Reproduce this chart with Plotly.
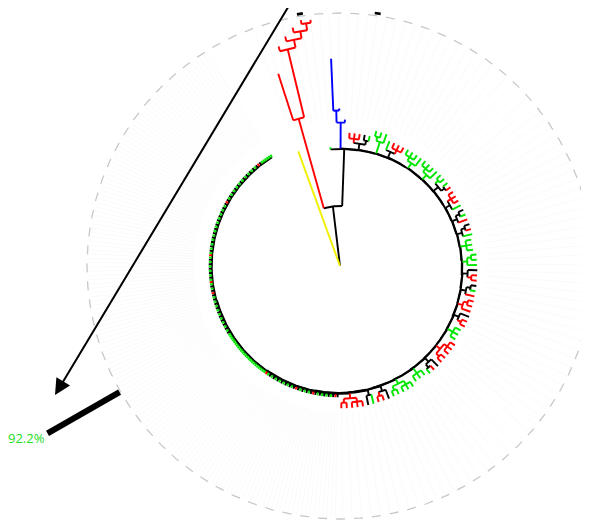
import math
import plotly.graph_objects as go

# ---------------- colours ----------------
TIP_COLOURS = {"R": "#ff0000", "G": "#00e600", "K": "#000000", "B": "#0000ff", "Y": "#f0f000"}

# ---------------- data (branch lengths are in tree units) ----------------
root_to_a = 60            # root -> node A
yellow_leaf = 122         # root -> yellow leaf
a_to_red = 93             # A -> red clade node
red_first_leaf = 49
red_ladder = [70, 8, 7, 7]
red_ladder_tips = [5, 5, 5, 4, 3]
a_to_b = 57               # A -> big clade B
b_first_leaf = 2
blue_stem = 26
blue_inner = 12
blue_tips = [52, 2, 3]
backbone_step = 0.45

small_clades = ["RRR|KG", "GG|G", "G|RRR", "GGG|G", "GGG|G", "GG|GR", "RRR|G",
                "KG|R", "KR|G", "GGG", "GG|G", "K|RR", "KG|R", "RR|R", "K|RR",
                "GGG", "RRR|RR", "K|RG", "GGG", "GGG|GG", "K|RR", "G|K", "RRR|RR"]
small_clade_stems = [6, 12, 6, 6, 6, 6, 5, 5, 5, 6, 5, 5, 5, 5, 5, 6, 5, 5, 6, 5, 5, 5, 5]

dense_segments = ["KRKGKGKGKG", "KRKGKGKGKR", "KGKGKGKGKG", "KGKGR",
                  "GGGGGGGGGGGGGGGGGGGGGGGG",
                  "KGKGKGKGKG", "KGKGKGKGKR", "KGKGRGKGKG", "KGKGKGRGKG", "KGKGKGKGKG",
                  "KGKGKGKGKG", "KRKGKGKGKG", "KGKGKGKGKG", "KGKRKGGGGG", "G"]
dense_stem = 0.5
dense_tip = 3
dense_leaf_weight = 0.45

bar_group = ["red", "clade01", "dense"]
bar_tip = [4, 2, 60]
bar_values = [3.0, 3.0, 92.2]
bar_labels = ["", "", "92.2%"]

# ---------------- layout constants ----------------
ARC_START = 110.0
ARC_SWEEP = 348.0
RING_R = 253.0
BAR_BASE = 254.0
BAR_SCALE = 0.9


class Node:
    def __init__(self, length, children=None, tip=None, weight=1.0, group=None):
        self.length = length
        self.children = children or []
        self.tip = tip
        self.weight = weight
        self.group = group
        self.r = 0.0
        self.angle = 0.0


def leaf(length, tip, weight=1.0, group=None):
    return Node(length, tip=tip, weight=weight, group=group)


def small_clade(spec, stem, name):
    groups = spec.split("|")
    kids = []
    for g in groups:
        if len(groups) == 1:
            kids += [leaf(6, c, group=name) for c in g]
        elif len(g) == 1:
            kids.append(leaf(9.5, g, group=name))
        else:
            kids.append(Node(4, [leaf(5.5, c, group=name) for c in g]))
    return Node(stem, kids)


# red clade
node = Node(red_ladder[-1], [leaf(red_ladder_tips[3], "R", group="red"), leaf(red_ladder_tips[4], "R", group="red")])
for st, tl in reversed(list(zip(red_ladder[:-1], red_ladder_tips[:3]))):
    node = Node(st, [leaf(tl, "R", group="red"), node])
red = Node(a_to_red, [leaf(red_first_leaf, "R", group="red"), node])

# blue clade
blue = Node(blue_stem, [Node(blue_inner, [leaf(blue_tips[0], "B"), leaf(blue_tips[1], "B")]),
                        leaf(blue_tips[2], "B")])

# dense clade
dense_str = "".join(dense_segments)
dense = Node(dense_stem, [leaf(dense_tip, c, weight=dense_leaf_weight, group="dense") for c in dense_str])

# backbone ladder
bb = dense
for i in reversed(range(len(small_clades))):
    bb = Node(backbone_step, [small_clade(small_clades[i], small_clade_stems[i], "clade%02d" % (i + 1)), bb])
bb = Node(backbone_step, [blue, bb])
B = Node(a_to_b, [leaf(b_first_leaf, "G"), bb])
A = Node(root_to_a, [red, B])
root = Node(0, [leaf(yellow_leaf, "Y"), A])

# ---------------- layout ----------------
leaves = []
def collect(n, parent_r):
    n.r = parent_r + n.length
    if n.tip:
        leaves.append(n)
    for c in n.children:
        collect(c, n.r)
collect(root, 0.0)

pos = 0.0
prev_w = None
for lf in leaves:
    if prev_w is not None:
        pos += (prev_w + lf.weight) / 2
    lf.pos = pos
    prev_w = lf.weight
step = ARC_SWEEP / leaves[-1].pos
for lf in leaves:
    lf.angle = ARC_START - step * lf.pos

def set_angles(n):
    if n.children:
        for c in n.children:
            set_angles(c)
        n.angle = (n.children[0].angle + n.children[-1].angle) / 2
set_angles(root)

def tips_of(n):
    if n.tip:
        return {n.tip}
    s = set()
    for c in n.children:
        s |= tips_of(c)
    return s

def colour_of(n):
    t = tips_of(n)
    return TIP_COLOURS[t.pop()] if len(t) == 1 else "#000000"

def pt(r, a):
    return r * math.cos(math.radians(a)), r * math.sin(math.radians(a))

segs = {}
def add(col, xs, ys):
    s = segs.setdefault(col, ([], []))
    s[0].extend(xs + [None])
    s[1].extend(ys + [None])

def draw(n, parent_r):
    col = colour_of(n)
    if n is not root:
        x0, y0 = pt(parent_r, n.angle)
        x1, y1 = pt(n.r, n.angle)
        add(col, [x0, x1], [y0, y1])
    if n.children and n.r > 0:
        a0, a1 = n.children[0].angle, n.children[-1].angle
        k = max(2, int(abs(a1 - a0) / 0.5) + 2)
        xs, ys = [], []
        for j in range(k):
            a = a0 + (a1 - a0) * j / (k - 1)
            x, y = pt(n.r, a)
            xs.append(x); ys.append(y)
        add(col, xs, ys)
    for c in n.children:
        draw(c, n.r)
draw(root, 0.0)

fig = go.Figure()

# faint spokes
sx, sy = [], []
for lf in leaves:
    x0, y0 = pt(146, lf.angle)
    x1, y1 = pt(RING_R - 1, lf.angle)
    sx += [x0, x1, None]; sy += [y0, y1, None]
fig.add_trace(go.Scatter(x=sx, y=sy, mode="lines", line=dict(color="rgba(0,0,0,0.025)", width=1),
                         hoverinfo="skip", showlegend=False))

# dashed ring
rx, ry = [], []
for j in range(721):
    x, y = pt(RING_R, j * 0.5)
    rx.append(x); ry.append(y)
fig.add_trace(go.Scatter(x=rx, y=ry, mode="lines", line=dict(color="#c8c8c8", width=1.3, dash="dash"),
                         hoverinfo="skip", showlegend=False))

order = ["#000000", "#00e600", "#ff0000", "#0000ff", "#f0f000"]
for col in order:
    if col in segs:
        xs, ys = segs[col]
        fig.add_trace(go.Scatter(x=xs, y=ys, mode="lines", line=dict(color=col, width=1.9),
                                 hoverinfo="skip", showlegend=False))

# bars
annotations = []
for g, ti, v, lab in zip(bar_group, bar_tip, bar_values, bar_labels):
    glv = [lf for lf in leaves if lf.group == g]
    a = glv[ti].angle
    x0, y0 = pt(BAR_BASE, a)
    x1, y1 = pt(BAR_BASE + v * BAR_SCALE, a)
    fig.add_trace(go.Scatter(x=[x0, x1], y=[y0, y1], mode="lines", line=dict(color="#000000", width=6),
                             hoverinfo="skip", showlegend=False))
    if lab:
        annotations.append(dict(x=x1, y=y1, text=lab, showarrow=False, xanchor="right", yanchor="middle",
                                xshift=-1, yshift=-5, font=dict(color="#22dd22", size=13, family="Open Sans")))

annotations.append(dict(x=-285, y=-129, ax=-44, ay=272, xref="x", yref="y", axref="x", ayref="y",
                        text="", showarrow=True, arrowhead=2, arrowsize=1.6, arrowwidth=2,
                        arrowcolor="#000000", standoff=0))

# page body has an 8px margin: ranges are offset so the root sits where the reference has it
fig.update_layout(width=589, height=522, margin=dict(l=0, r=0, t=0, b=0),
                  paper_bgcolor="white", plot_bgcolor="white",
                  xaxis=dict(range=[-332, 257], visible=False, showgrid=False, zeroline=False),
                  yaxis=dict(range=[-264, 258], visible=False, showgrid=False, zeroline=False),
                  annotations=annotations)

fig.write_html("out.html")
